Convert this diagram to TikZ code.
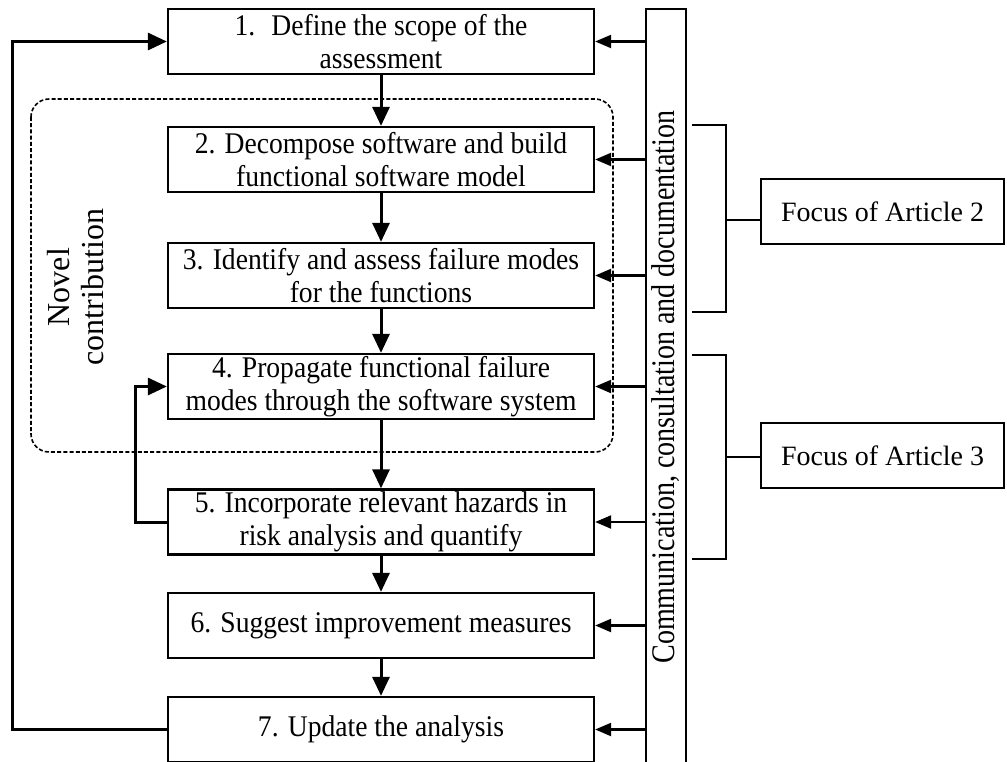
\documentclass[tikz,border=0pt]{standalone}
\usepackage{fontspec}
\setmainfont{Liberation Serif}
% narrow cuts of the serif face
\newfontfamily\condfont[FakeStretch=0.85]{Liberation Serif}
\newfontfamily\stepfont[FakeStretch=0.92]{Liberation Serif}
\usetikzlibrary{arrows.meta}
\begin{document}
\begin{tikzpicture}[x=1pt,y=-1pt,
  stepbox/.style={draw, line width=2.3pt, minimum width=426pt, minimum height=65pt,
    inner sep=0pt, align=center, font=\stepfont\fontsize{30}{33}\selectfont},
  focusbox/.style={draw, line width=2.3pt, minimum width=243pt, minimum height=65pt,
    inner sep=0pt, font=\fontsize{28}{32}\selectfont},
  flow/.style={line width=3pt, -{Triangle[length=19pt,width=17pt]}},
  sidearrow/.style={line width=2.2pt, -{Triangle[length=16pt,width=13pt]}},
  bracketline/.style={line width=2pt},
  groupbox/.style={draw, dash pattern=on 4pt off 2.2pt, line width=1.6pt, rounded corners=18pt},
]
\fill[white] (0,0) rectangle (1007,761);
\useasboundingbox (0,0) rectangle (1007,761);

% dashed group around steps 2-4
\draw[groupbox] (31,99) rectangle (613,452);
\node[rotate=90, align=center, font=\fontsize{32}{34}\selectfont] (novel) at (76,287)
  {Novel\\contribution};

% process steps
\node[stepbox] (b1) at (381,41.5) {1.~ Define the scope of the\\assessment};
\node[stepbox] (b2) at (381,159.5) {2. Decompose software and build\\functional software model};
\node[stepbox] (b3) at (381,275.5) {3. Identify and assess failure modes\\for the functions};
\node[stepbox] (b4) at (381,386.5) {4. Propagate functional failure\\modes through the software system};
\node[stepbox] (b5) at (381,522) {5. Incorporate relevant hazards in\\risk analysis and quantify};
\node[stepbox] (b6) at (381,625.5) {6. Suggest improvement measures};
\node[stepbox] (b7) at (381,729.5) {7. Update the analysis};

% communication bar
\node[draw, line width=2.3pt, minimum width=40pt, minimum height=756pt, inner sep=0pt] (bar) at (666,387) {};
\node[rotate=90, font=\condfont\fontsize{33}{38}\selectfont] (comm) at (bar.center)
  {Communication, consultation and documentation};

% main flow
\draw[flow] (b1) -- (b2);
\draw[flow] (b2) -- (b3);
\draw[flow] (b3) -- (b4);
\draw[flow] (b4) -- (b5);
\draw[flow] (b5) -- (b6);
\draw[flow] (b6) -- (b7);

% iteration loops
\coordinate (loopx) at (12,0);
\draw[flow] (b7.west) -- (b7.west -| loopx) |- (b1.west);
\coordinate (feedx) at (135,0);
\draw[flow] (b5.west) -- (b5.west -| feedx) |- (b4.west);

% inputs from the communication bar
\foreach \b in {b1,b2,b3,b4,b5,b6,b7}
  \draw[sidearrow] (\b.east -| bar.west) -- (\b.east);

% article focus brackets
\node[focusbox] (fa2) at (882.5,211.5) {Focus of Article 2};
\node[focusbox] (fa3) at (882.5,455.5) {Focus of Article 3};
\draw[bracketline] (692,125) -| (726,312) -- (692,312);
\coordinate (s2) at (726,220);
\draw[bracketline] (s2) -- (s2 -| fa2.west);
\draw[bracketline] (692,355) -| (726,559) -- (692,559);
\coordinate (s3) at (726,457);
\draw[bracketline] (s3) -- (s3 -| fa3.west);
\end{tikzpicture}
\end{document}
